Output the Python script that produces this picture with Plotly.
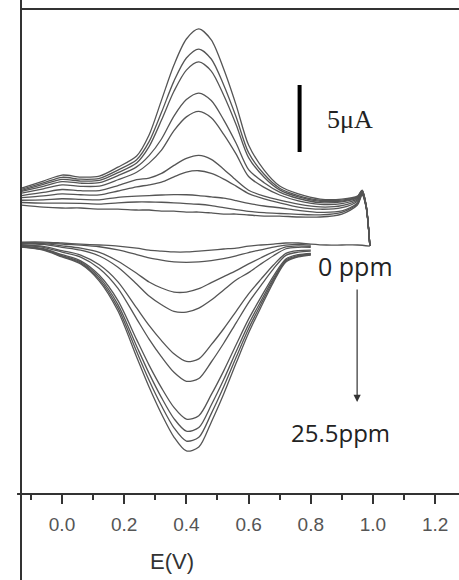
import plotly.graph_objects as go

# Potential grids (V) for the anodic (forward) and cathodic (reverse) sweeps
anodic_E = [-0.13, -0.06, 0.0, 0.06, 0.12, 0.18, 0.24, 0.28, 0.32, 0.36, 0.40, 0.44,
            0.48, 0.52, 0.56, 0.60, 0.65, 0.70, 0.76, 0.83, 0.90, 0.95, 0.965, 0.978, 0.99]
cathodic_E = [0.99, 0.95, 0.90, 0.85, 0.80, 0.76, 0.72, 0.68, 0.64, 0.60, 0.56, 0.52,
              0.48, 0.44, 0.40, 0.36, 0.32, 0.28, 0.24, 0.18, 0.12, 0.06, 0.0, -0.06, -0.13]

# Anodic currents (µA), from 0 ppm up to 25.5 ppm
anodic_0 = [1.49, 1.34, 1.27, 1.27, 1.19, 1.19, 1.12, 1.12, 1.04, 1.04, 0.97, 0.97, 0.90, 0.82, 0.82, 0.75, 0.67, 0.67, 0.60, 0.60, 0.82, 1.49, 2.24, 1.30, -1.57]
anodic_1 = [1.68, 1.63, 1.64, 1.62, 1.56, 1.66, 1.72, 1.72, 1.70, 1.66, 1.60, 1.55, 1.45, 1.30, 1.15, 1.02, 0.92, 0.86, 0.80, 0.76, 0.95, 1.58, 2.30, 1.33, -1.57]
anodic_2 = [1.85, 1.88, 1.96, 1.92, 1.88, 2.07, 2.15, 2.20, 2.24, 2.27, 2.26, 2.20, 2.10, 2.00, 1.82, 1.62, 1.42, 1.29, 1.10, 0.95, 1.05, 1.65, 2.35, 1.35, -1.57]
anodic_3 = [2.04, 2.17, 2.33, 2.26, 2.25, 2.54, 2.85, 3.00, 3.20, 3.60, 3.95, 4.05, 3.85, 3.43, 2.90, 2.35, 1.95, 1.65, 1.34, 1.18, 1.30, 1.78, 2.40, 1.38, -1.57]
anodic_4 = [2.20, 2.43, 2.65, 2.56, 2.57, 2.94, 3.38, 3.50, 3.85, 4.45, 4.97, 5.20, 4.90, 4.17, 3.34, 2.60, 2.15, 1.85, 1.56, 1.35, 1.45, 1.87, 2.45, 1.40, -1.57]
anodic_5 = [2.38, 2.70, 2.99, 2.89, 2.91, 3.38, 3.94, 4.62, 5.59, 7.04, 8.07, 8.48, 8.00, 6.77, 5.29, 3.62, 2.81, 2.24, 1.80, 1.54, 1.60, 1.96, 2.50, 1.43, -1.57]
anodic_6 = [2.51, 2.89, 3.24, 3.12, 3.16, 3.69, 4.34, 5.18, 6.42, 8.13, 9.36, 9.85, 9.29, 7.85, 6.10, 4.14, 3.16, 2.46, 1.98, 1.67, 1.72, 2.03, 2.54, 1.45, -1.57]
anodic_7 = [2.59, 3.03, 3.41, 3.28, 3.33, 3.91, 4.63, 5.85, 7.83, 9.98, 11.56, 12.17, 11.49, 9.69, 7.49, 5.03, 3.57, 2.62, 2.10, 1.77, 1.79, 2.07, 2.56, 1.46, -1.57]
anodic_8 = [2.67, 3.14, 3.56, 3.42, 3.48, 4.10, 4.87, 6.22, 8.41, 10.74, 12.46, 13.13, 12.39, 10.45, 8.06, 5.40, 3.79, 2.75, 2.20, 1.85, 1.86, 2.11, 2.58, 1.48, -1.57]
anodic_9 = [2.76, 3.28, 3.73, 3.58, 3.65, 4.32, 5.15, 6.72, 9.32, 11.94, 13.88, 14.63, 13.81, 11.64, 8.95, 5.97, 4.10, 2.91, 2.32, 1.94, 1.94, 2.16, 2.61, 1.50, -1.57]

# Cathodic currents (µA); the high-potential end of each sweep sits under the "0 ppm" label
cathodic_0 = [-1.57, -1.49, -1.49, -1.49, -1.42, -1.34, -1.34, -1.42, -1.49, -1.57, -1.72, -1.79, -1.87, -1.94, -2.01, -2.01, -1.94, -1.87, -1.72, -1.57, -1.49, -1.42, -1.34, -1.27, -1.27]
cathodic_1 = [None, None, None, None, -1.50, -1.45, -1.50, -1.65, -1.85, -2.05, -2.30, -2.50, -2.65, -2.75, -2.78, -2.75, -2.62, -2.45, -2.20, -1.85, -1.62, -1.50, -1.42, -1.33, -1.31]
cathodic_2 = [None, None, None, None, -1.59, -1.55, -1.63, -2.00, -2.44, -2.90, -3.40, -3.85, -4.30, -4.75, -5.00, -5.00, -4.70, -4.25, -3.60, -2.70, -2.04, -1.73, -1.55, -1.39, -1.35]
cathodic_3 = [None, None, None, None, -1.67, -1.66, -1.77, -2.29, -2.90, -3.55, -4.10, -4.85, -5.60, -6.20, -6.50, -6.45, -5.95, -5.30, -4.40, -3.15, -2.31, -1.87, -1.66, -1.45, -1.38]
cathodic_4 = [None, None, None, None, -1.87, -1.91, -2.12, -2.98, -4.04, -5.14, -6.44, -7.74, -8.93, -9.99, -10.18, -9.61, -8.63, -7.49, -6.19, -4.24, -2.97, -2.24, -1.91, -1.60, -1.47]
cathodic_5 = [None, None, None, None, -1.95, -2.02, -2.26, -3.27, -4.50, -5.79, -7.30, -8.82, -10.22, -11.45, -11.66, -10.99, -9.84, -8.51, -7.00, -4.72, -3.24, -2.39, -2.02, -1.66, -1.51]
cathodic_6 = [None, None, None, None, -2.11, -2.21, -2.53, -3.81, -5.38, -7.02, -8.93, -10.88, -12.66, -14.23, -14.48, -13.61, -12.15, -10.45, -8.55, -5.64, -3.75, -2.67, -2.21, -1.77, -1.58]
cathodic_7 = [None, None, None, None, -2.16, -2.28, -2.62, -3.98, -5.66, -7.41, -9.44, -11.53, -13.43, -15.11, -15.38, -14.44, -12.88, -11.07, -9.04, -5.94, -3.91, -2.76, -2.28, -1.81, -1.60]
cathodic_8 = [None, None, None, None, -2.20, -2.33, -2.69, -4.12, -5.89, -7.74, -9.87, -12.07, -14.07, -15.84, -16.12, -15.13, -13.49, -11.58, -9.44, -6.18, -4.05, -2.84, -2.33, -1.84, -1.62]
cathodic_9 = [None, None, None, None, -2.24, -2.38, -2.76, -4.26, -6.12, -8.06, -10.30, -12.61, -14.71, -16.57, -16.86, -15.82, -14.10, -12.09, -9.85, -6.42, -4.18, -2.91, -2.38, -1.87, -1.64]

anodic_scans = [anodic_0, anodic_1, anodic_2, anodic_3, anodic_4,
                anodic_5, anodic_6, anodic_7, anodic_8, anodic_9]
cathodic_scans = [cathodic_0, cathodic_1, cathodic_2, cathodic_3, cathodic_4,
                  cathodic_5, cathodic_6, cathodic_7, cathodic_8, cathodic_9]

# Axis ticks
major_ticks = [0.0, 0.2, 0.4, 0.6, 0.8, 1.0, 1.2]
major_labels = ["0.0", "0.2", "0.4", "0.6", "0.8", "1.0", "1.2"]
minor_ticks = [-0.1, 0.1, 0.3, 0.5, 0.7, 0.9, 1.1]

# Scale bar (5 µA) and annotation text
scale_bar_E = 0.764
scale_bar_I = [5.45, 10.45]
scale_label = "5μA"
low_label = "0 ppm"
high_label = "25.5ppm"

LINE = "#555555"
AXIS = "#333333"

fig = go.Figure()
for ys in anodic_scans:
    fig.add_trace(go.Scatter(x=anodic_E, y=ys, mode="lines",
                             line=dict(color=LINE, width=1.3, shape="spline", smoothing=0.8),
                             hoverinfo="skip", showlegend=False))
for ys in cathodic_scans:
    fig.add_trace(go.Scatter(x=cathodic_E, y=ys, mode="lines",
                             line=dict(color=LINE, width=1.3, shape="spline", smoothing=0.8),
                             hoverinfo="skip", showlegend=False))

shapes = [
    # left frame line, running the full height of the page
    dict(type="line", xref="paper", yref="paper", x0=0, x1=0, y0=-0.18, y1=1.02,
         line=dict(color=AXIS, width=2)),
    # top frame line
    dict(type="line", xref="paper", yref="paper", x0=0, x1=1, y0=1, y1=1,
         line=dict(color=AXIS, width=2)),
    # x axis line
    dict(type="line", xref="paper", yref="paper", x0=-0.009, x1=1, y0=0, y1=0,
         line=dict(color=AXIS, width=2)),
    # 5 µA scale bar
    dict(type="line", xref="x", yref="y", x0=scale_bar_E, x1=scale_bar_E,
         y0=scale_bar_I[0], y1=scale_bar_I[1], line=dict(color="black", width=4)),
]

annotations = [
    dict(text="E(V)", x=0.354, xref="x", y=-0.1402, yref="paper", yanchor="middle",
         showarrow=False,
         font=dict(family="Liberation Sans, Arial", size=22, color=AXIS)),
    dict(text=scale_label, x=0.926, y=7.84, xref="x", yref="y", showarrow=False,
         font=dict(family="Liberation Serif, Times New Roman", size=26, color="#222222")),
    dict(text=low_label, x=0.945, y=-3.06, xref="x", yref="y", showarrow=False,
         font=dict(family="Open Sans", size=25, color="#222222")),
    dict(text=high_label, x=0.894, y=-15.45, xref="x", yref="y", showarrow=False,
         font=dict(family="Open Sans", size=24, color="#222222")),
    dict(text="", x=0.949, y=-13.21, xref="x", yref="y",
         ax=0.949, ay=-4.70, axref="x", ayref="y", showarrow=True,
         arrowhead=2, arrowsize=1.2, arrowwidth=1.2, arrowcolor=AXIS, standoff=0),
]

fig.update_layout(
    width=459, height=580,
    margin=dict(l=21, r=0, t=9, b=86),
    paper_bgcolor="white", plot_bgcolor="white",
    shapes=shapes, annotations=annotations,
    xaxis=dict(range=[-0.1318, 1.2766], showgrid=False, zeroline=False, showline=False,
               tickmode="array", tickvals=major_ticks, ticktext=major_labels,
               ticks="outside", ticklen=9, tickwidth=2, tickcolor=AXIS,
               ticklabelstandoff=4,
               tickfont=dict(family="Liberation Sans, Arial", size=19, color="#555555"),
               minor=dict(tickvals=minor_ticks, ticks="outside", ticklen=5,
                          tickwidth=2, tickcolor=AXIS)),
    yaxis=dict(range=[-20.07, 16.12], visible=False),
)

fig.write_html("out.html")
